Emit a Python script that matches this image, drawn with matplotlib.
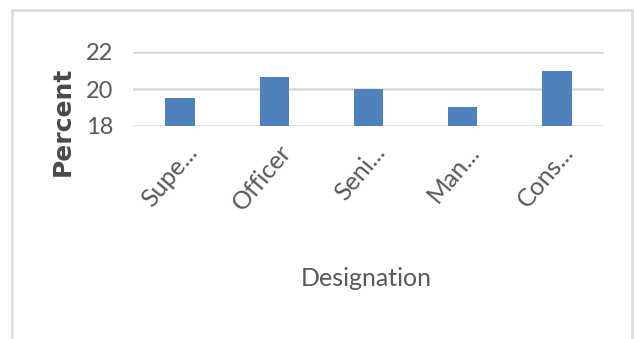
import matplotlib
matplotlib.use("Agg")
import matplotlib.pyplot as plt
from matplotlib.patches import Rectangle
from matplotlib.transforms import ScaledTranslation

categories = ["Supe...", "Officer", "Seni...", "Man...", "Cons..."]
percent = [19.5, 20.66, 20.0, 19.03, 20.96]
yticks = [18, 20, 22]

font = "Lato"

fig = plt.figure(figsize=(6.34, 3.39), dpi=100)
ax = fig.add_axes([133/634, 1-126/339, (604-133)/634, (126-52)/339])

x = range(len(categories))
ax.bar(x, [p - 18 for p in percent], bottom=18, width=0.31, color="#4f81bd", zorder=3)
ax.set_xlim(-0.5, len(categories) - 0.5)
ax.set_ylim(18, 22)
ax.set_yticks(yticks)
ax.yaxis.grid(True, color="#d9d9d9", linewidth=1.8, zorder=0)
for s in ax.spines.values():
    s.set_visible(False)
ax.tick_params(length=0)
ax.tick_params(axis="y", pad=14, labelsize=17, labelcolor="#595959")
for lab in ax.get_yticklabels():
    lab.set_fontfamily(font)

ax.set_xticks(list(x))
ax.set_xticklabels([])
off = ScaledTranslation(0.18, -0.27, fig.dpi_scale_trans)
for i, c in enumerate(categories):
    ax.text(i, 18, c, rotation=50, rotation_mode="anchor", ha="right", va="baseline",
            fontsize=18, color="#595959", family=font,
            transform=ax.transData + off)

fig.text(366/634, 1-279/339, "Designation", ha="center", va="center",
         fontsize=18, color="#595959", family=font)
fig.text(63/634, 1-121/339, "Percent", ha="center", va="center", rotation=90,
         fontsize=18, fontweight="bold", color="#4a4a4a")

# chart border
fig.patches.append(Rectangle((12/634, -0.05), (632-12)/634, 1.05-10/339,
                             transform=fig.transFigure, fill=False,
                             edgecolor="#d9d9d9", linewidth=1.8))

fig.savefig("out.png", dpi=100)
